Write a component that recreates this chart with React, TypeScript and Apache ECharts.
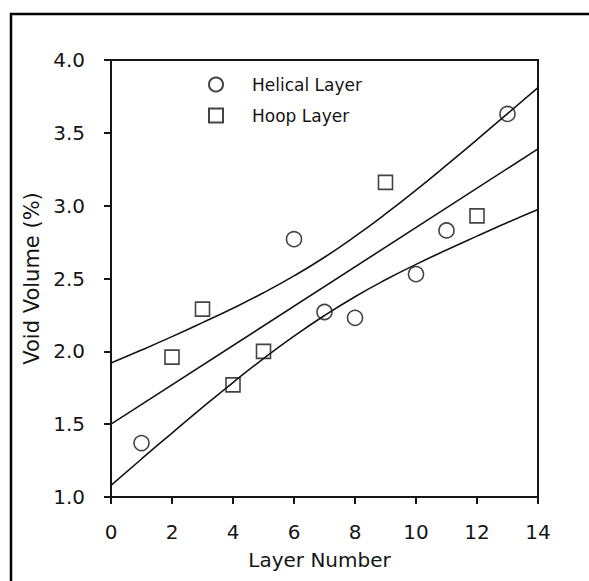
import React, { useEffect, useRef } from "react";
import * as echarts from "echarts";

const helicalX = [1, 6, 7, 8, 10, 11, 13];
const helicalY = [1.37, 2.77, 2.27, 2.23, 2.53, 2.83, 3.63];
const hoopX = [2, 3, 4, 5, 9, 12];
const hoopY = [1.96, 2.29, 1.77, 2.0, 3.16, 2.93];
const fitX = [0, 14];
const fitY = [1.5, 3.39];
const bandX = [0, 1, 2, 3, 4, 5, 6, 7, 8, 9, 10, 11, 12, 13, 14];
const upperY = [1.92, 2.009, 2.101, 2.197, 2.296, 2.402, 2.518, 2.646, 2.789, 2.943, 3.107, 3.278, 3.453, 3.632, 3.81];
const lowerY = [1.08, 1.261, 1.439, 1.615, 1.786, 1.95, 2.104, 2.246, 2.375, 2.491, 2.597, 2.696, 2.791, 2.884, 2.973];

const ink = "#151515";
const font = "DejaVu Sans";

export default function App() {
  const ref = useRef<HTMLDivElement>(null);
  useEffect(() => {
    if (!ref.current) return;
    const chart = echarts.init(ref.current, null, { renderer: "svg" });
    const zip = (xs: number[], ys: number[]) => xs.map((x, i) => [x, ys[i]]);
    const lineStyle = { color: ink, width: 1.6 };
    chart.setOption({
      animation: false,
      backgroundColor: "#fff",
      textStyle: { fontFamily: font },
      grid: {
        left: 111,
        top: 60,
        right: 51,
        bottom: 84,
        show: true,
        borderColor: ink,
        borderWidth: 2,
        backgroundColor: "transparent",
      },
      legend: {
        orient: "vertical",
        left: 208,
        top: 76,
        padding: 0,
        itemWidth: 14,
        itemHeight: 14,
        itemGap: 14,
        data: ["Helical Layer", "Hoop Layer"],
        textStyle: { fontFamily: font, fontSize: 17, color: ink, padding: [0, 0, 0, 24] },
      },
      xAxis: {
        type: "value",
        min: 0,
        max: 14,
        interval: 2,
        name: "Layer Number",
        nameLocation: "middle",
        nameGap: 53,
        nameTextStyle: { fontFamily: font, fontSize: 20, color: ink, padding: [0, 10, 0, 0] },
        axisLine: { show: true, lineStyle: { color: ink, width: 2 } },
        axisTick: { show: true, inside: false, length: 7, lineStyle: { color: ink, width: 2 } },
        axisLabel: { margin: 25, fontFamily: font, fontSize: 20, color: ink },
        splitLine: { show: false },
      },
      yAxis: {
        type: "value",
        min: 1,
        max: 4,
        interval: 0.5,
        name: "Void Volume (%)",
        nameLocation: "middle",
        nameGap: 67,
        nameTextStyle: { fontFamily: font, fontSize: 21, color: ink, padding: [0, 0, 0, 0] },
        axisLine: { show: true, lineStyle: { color: ink, width: 2 } },
        axisTick: { show: true, inside: false, length: 7, lineStyle: { color: ink, width: 2 } },
        axisLabel: {
          margin: 26,
          fontFamily: font,
          fontSize: 20,
          color: ink,
          formatter: (v: number) => v.toFixed(1),
        },
        splitLine: { show: false },
      },
      series: [
        {
          name: "Helical Layer",
          type: "scatter",
          symbol: "circle",
          symbolSize: 15,
          itemStyle: { color: "rgba(255,255,255,0)", borderColor: ink, borderWidth: 1.6 },
          data: zip(helicalX, helicalY),
          z: 3,
        },
        {
          name: "Hoop Layer",
          type: "scatter",
          symbol: "rect",
          symbolSize: 14,
          itemStyle: { color: "rgba(255,255,255,0)", borderColor: ink, borderWidth: 1.6 },
          data: zip(hoopX, hoopY),
          z: 3,
        },
        {
          name: "Fit",
          type: "line",
          showSymbol: false,
          symbol: "none",
          lineStyle,
          data: zip(fitX, fitY),
          z: 2,
        },
        {
          name: "Upper",
          type: "line",
          smooth: true,
          showSymbol: false,
          symbol: "none",
          lineStyle,
          data: zip(bandX, upperY),
          z: 2,
        },
        {
          name: "Lower",
          type: "line",
          smooth: true,
          showSymbol: false,
          symbol: "none",
          lineStyle,
          data: zip(bandX, lowerY),
          z: 2,
        },
      ],
      graphic: [
        {
          type: "polyline",
          shape: { points: [[11, 620], [11, 14], [620, 14]] },
          style: { fill: "none", stroke: "#000", lineWidth: 2.5 },
          silent: true,
        },
      ],
    });
    return () => chart.dispose();
  }, []);
  return <div ref={ref} style={{ width: 589, height: 581, position: "absolute", left: 0, top: 0 }} />;
}
